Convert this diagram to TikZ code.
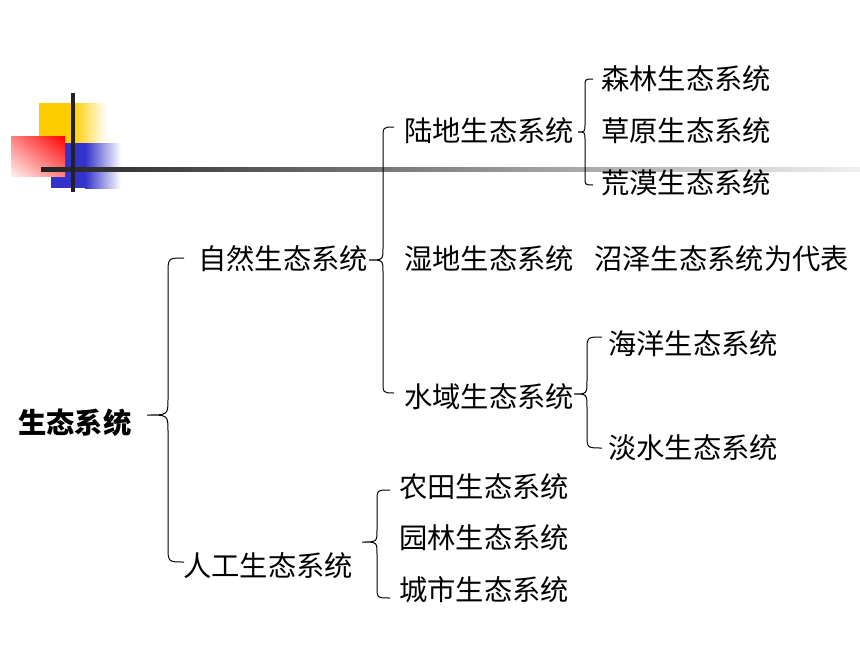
\documentclass[tikz,border=0pt]{standalone}
\usepackage{fontspec}
\usetikzlibrary{shadings}
\newfontfamily\cjk{Noto Sans CJK SC}
\definecolor{yel}{HTML}{FFCC00}
\definecolor{blu}{HTML}{3333CC}
\definecolor{lin}{HTML}{222222}
\tikzset{
  lbl/.style={anchor=west, inner sep=0pt, font=\cjk\fontsize{28.3}{34}\selectfont},
  rootlbl/.style={lbl, font=\cjk\bfseries\fontsize{28.3}{34}\selectfont},
  brc/.style={draw=black, line width=1pt}
}
% #1 spine x, #2 tip x, #3 end x, #4 top y, #5 mid y, #6 bottom y, #7 r
\newcommand\mybrace[7]{%
  \draw[brc] (#3,#4) .. controls (#1,#4) .. ({#1},{#4+#7}) -- ({#1},{#5-#7})
    .. controls (#1,#5) .. (#2,#5) .. controls (#1,#5) .. ({#1},{#5+#7})
    -- ({#1},{#6-#7}) .. controls (#1,#6) .. (#3,#6);}
\begin{document}
\begin{tikzpicture}[x=1pt,y=-1pt]
\useasboundingbox (0,0) rectangle (860,645);
% decoration
\fill[yel] (39,103) rectangle (73,143);
\shade[left color=yel, right color=white] (73,103) rectangle (106,143);
\fill[blu] (51,143) rectangle (85,188);
\shade[left color=blu, right color=white] (85,143) rectangle (121,188);
\shade[upper right=red, upper left=red!50, lower right=red!50, lower left=red!6] (11,136) rectangle (65,176);
\shade[left color=lin, right color=black!6] (41,167) rectangle (860,171);
\fill[lin] (71,93) rectangle (75,192);
% labels
\node[rootlbl] (root) at (18,423) {生态系统};
\node[lbl] (zr) at (198,259) {自然生态系统};
\node[lbl] (rg) at (183,566) {人工生态系统};
\node[lbl] (ld) at (404,131) {陆地生态系统};
\node[lbl] (sd) at (404,259) {湿地生态系统};
\node[lbl] (sy) at (404,397) {水域生态系统};
\node[lbl] (sl) at (601,79) {森林生态系统};
\node[lbl] (cy) at (601,131) {草原生态系统};
\node[lbl] (hm) at (601,183) {荒漠生态系统};
\node[lbl] (zz) at (594,259) {沼泽生态系统为代表};
\node[lbl] (hy) at (608,344) {海洋生态系统};
\node[lbl] (ds) at (608,448) {淡水生态系统};
\node[lbl] (nt) at (399,487) {农田生态系统};
\node[lbl] (yl) at (399,538) {园林生态系统};
\node[lbl] (cs) at (399,590) {城市生态系统};
% braces
\mybrace{168}{147}{184}{258}{415}{562}{16}
\mybrace{383}{369}{394}{127}{260}{393}{12}
\mybrace{585}{578}{593}{79}{132}{185}{8}
\mybrace{587}{574}{602}{337}{394}{448}{14}
\mybrace{377}{362}{390}{490}{542}{598}{12}
\end{tikzpicture}
\end{document}
